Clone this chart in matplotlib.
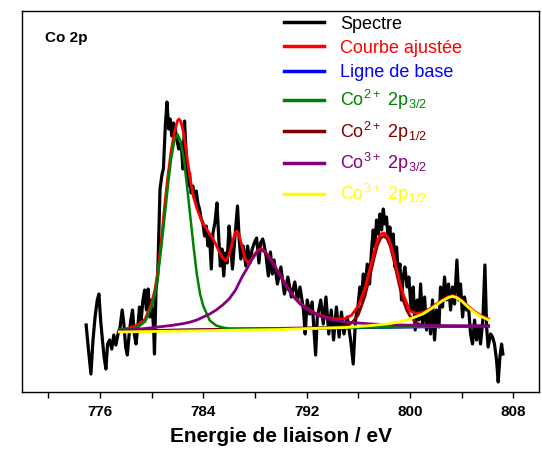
import matplotlib
matplotlib.use("Agg")
import matplotlib.pyplot as plt
from matplotlib.ticker import MultipleLocator

plt.rcParams['font.family'] = ['Liberation Sans', 'DejaVu Sans']
plt.rcParams['mathtext.default'] = 'regular'

# measured spectrum (binding energy in eV, intensity in arbitrary units)
spec_x = [774.93, 775.11, 775.30, 775.46, 775.62, 775.79, 775.92, 776.05, 776.19, 776.32,
          776.46, 776.59, 776.75, 776.91, 777.07, 777.23, 777.40, 777.56, 777.72, 777.85,
          777.99, 778.12, 778.26, 778.39, 778.52, 778.66, 778.79, 778.93, 779.06, 779.19,
          779.33, 779.46, 779.60, 779.73, 779.87, 780.00, 780.16, 780.22, 780.34, 780.47,
          780.65, 780.81, 780.91, 781.06, 781.19, 781.32, 781.43, 781.56, 781.69, 781.82,
          781.95, 782.10, 782.29, 782.42, 782.55, 782.68, 782.81, 782.94, 783.06, 783.19,
          783.32, 783.45, 783.58, 783.71, 783.84, 783.97, 784.10, 784.23, 784.36, 784.49,
          784.62, 784.75, 784.91, 785.06, 785.19, 785.32, 785.45, 785.58, 785.71, 785.84,
          786.00, 786.13, 786.26, 786.44, 786.65, 786.78, 786.91, 787.09, 787.30, 787.43,
          787.61, 787.79, 787.95, 788.13, 788.31, 788.44, 788.60, 788.70, 788.86, 789.04,
          789.20, 789.35, 789.48, 789.74, 790.01, 790.28, 790.55, 790.82, 791.09, 791.30,
          791.49, 791.76, 791.89, 792.05, 792.24, 792.43, 792.70, 792.83, 793.10, 793.29,
          793.50, 793.72, 793.91, 794.09, 794.31, 794.52, 794.70, 794.89, 795.15, 795.41,
          795.61, 795.79, 795.97, 796.13, 796.26, 796.39, 796.52, 796.70, 796.88, 797.03,
          797.16, 797.29, 797.42, 797.55, 797.68, 797.81, 797.94, 798.06, 798.19, 798.32,
          798.45, 798.58, 798.71, 798.84, 798.97, 799.10, 799.23, 799.35, 799.48, 799.61,
          799.79, 799.92, 800.10, 800.26, 800.41, 800.57, 800.70, 800.83, 800.98, 801.14,
          801.29, 801.45, 801.60, 801.75, 801.91, 802.06, 802.25, 802.37, 802.53, 802.68,
          802.84, 802.99, 803.15, 803.30, 803.46, 803.64, 803.79, 803.92, 804.08, 804.23,
          804.39, 804.54, 804.70, 804.85, 805.01, 805.16, 805.32, 805.47, 805.65, 805.81,
          805.94, 806.06, 806.25, 806.40, 806.55, 806.71, 806.84, 806.97, 807.10, 807.20]
spec_y = [67, 42, 18, 52, 75, 92, 98, 72, 52, 35,
          23, 48, 52, 43, 57, 47, 58, 65, 82, 68,
          45, 37, 58, 72, 82, 58, 48, 65, 85, 72,
          92, 102, 82, 103, 75, 92, 62, 38, 103, 116,
          203, 218, 223, 266, 290, 263, 273, 256, 269, 263,
          253, 243, 249, 223, 271, 236, 206, 219, 199, 206,
          193, 201, 189, 183, 173, 169, 156, 166, 146, 156,
          123, 159, 170, 189, 156, 126, 143, 116, 139, 129,
          166, 146, 123, 153, 186, 153, 133, 146, 126, 146,
          129, 143, 149, 154, 129, 149, 153, 148, 136, 116,
          140, 118, 132, 108, 125, 98, 115, 95, 110, 92,
          105, 82, 58, 92, 78, 90, 37, 75, 92, 68,
          95, 58, 82, 52, 85, 55, 80, 58, 75, 52,
          28, 72, 85, 105, 92, 118, 102, 128, 108, 142,
          162, 145, 172, 158, 178, 162, 183, 168, 175, 152,
          165, 142, 158, 125, 145, 118, 128, 92, 115, 125,
          105, 115, 82, 105, 62, 92, 72, 108, 68, 95,
          62, 82, 58, 92, 52, 82, 65, 105, 85, 115,
          92, 108, 82, 105, 88, 132, 92, 108, 75, 95,
          82, 85, 58, 48, 72, 52, 65, 48, 72, 127,
          65, 45, 58, 55, 48, 32, 10, 35, 48, 38]

# fitted envelope
fit_x = [777.5, 778.0, 778.5, 779.0, 779.5, 780.0, 780.25, 780.5, 780.75, 781.0,
         781.25, 781.5, 781.75, 782.0, 782.1, 782.25, 782.5, 782.75, 783.0, 783.25,
         783.5, 783.75, 784.0, 784.25, 784.5, 784.75, 785.0, 785.25, 785.5, 785.75,
         786.0, 786.25, 786.5, 786.6, 786.75, 787.0, 787.25, 787.5, 787.75, 788.0,
         788.25, 788.5, 788.75, 789.0, 789.5, 790.0, 790.5, 791.0, 791.5, 792.0,
         792.5, 793.0, 793.5, 794.0, 794.5, 795.0, 795.5, 796.0, 796.5, 797.0,
         797.25, 797.5, 797.75, 798.0, 798.25, 798.5, 798.75, 799.0, 799.25, 799.5,
         799.75, 800.0, 800.5, 801.0, 801.5, 802.0, 802.5, 803.0, 803.3, 803.6,
         804.0, 804.5, 805.0, 805.5, 806.1]
fit_y = [61.5, 63, 65, 67.5, 73, 89, 102, 122, 152, 185,
         215, 240, 259, 271, 273, 271, 258, 234, 212, 195,
         184, 175, 168, 163, 158, 153, 147, 140, 134, 131,
         137, 150, 160, 161, 158, 146, 133, 129, 133, 138,
         142, 143, 141, 137, 127, 116, 105, 96, 89, 84,
         80, 77, 75, 73.5, 73, 73.5, 77, 86, 103, 128,
         141, 152, 158, 159, 156, 148, 136, 121, 108, 97,
         89, 81, 78.5, 79.5, 83, 87.5, 92, 95.5, 96.5, 95.5,
         92, 86, 80.5, 76.5, 73]

# linear background
base_x = [777.5, 806.1]
base_y = [61, 66]

# Co2+ 2p3/2
co2_32_x = [777.5, 778.0, 778.5, 779.0, 779.5, 780.0, 780.25, 780.5, 780.75, 781.0,
            781.25, 781.5, 781.75, 782.0, 782.25, 782.5, 782.75, 783.0, 783.25, 783.5,
            783.75, 784.0, 784.5, 785.0, 785.5, 786.0, 790.0, 806.1]
co2_32_y = [62.5, 63, 63.5, 65.5, 70.5, 85.5, 97.5, 117.5, 144.5, 174.5,
            204.5, 232.5, 250.5, 257.8, 250.6, 232.8, 204.8, 175, 145, 118,
            98, 86, 71.5, 66.5, 64.5, 63.5, 63.5, 66]

# Co2+ 2p1/2
co2_12_x = [777.5, 794.0, 795.0, 795.5, 796.0, 796.5, 797.0, 797.25, 797.5, 797.75,
            798.0, 798.25, 798.5, 798.75, 799.0, 799.25, 799.5, 799.75, 800.0, 800.5,
            801.0, 802.0, 806.1]
co2_12_y = [61, 64.5, 66, 69, 77, 95, 121, 135, 147, 154,
            156, 153, 145, 132, 117, 103, 91, 82, 76, 69,
            66.5, 65.5, 66]

# Co3+ 2p3/2
co3_32_x = [777.5, 778.5, 779.5, 780.5, 781.5, 782.5, 783.0, 783.5, 784.0, 784.5,
            785.0, 785.5, 786.0, 786.5, 787.0, 787.5, 787.75, 788.0, 788.25, 788.5,
            788.75, 789.0, 789.5, 790.0, 790.5, 791.0, 791.5, 792.0, 792.5, 793.0,
            794.0, 795.0, 796.0, 797.0, 799.0, 802.0, 806.1]
co3_32_y = [61.5, 62.5, 63.5, 65, 66.5, 68.5, 70, 72, 75, 78,
            82, 87, 93, 102, 115, 126, 132, 137, 141, 142,
            140, 136, 126, 115, 104, 95, 88, 83, 79, 76,
            72, 70, 69, 68, 67, 66.5, 66]

# Co3+ 2p1/2
co3_12_x = [777.5, 785.0, 790.0, 795.0, 797.0, 798.5, 799.5, 800.0, 800.5, 801.0,
            801.5, 802.0, 802.5, 803.0, 803.3, 803.6, 804.0, 804.5, 805.0, 805.5,
            806.1]
co3_12_y = [60, 61.5, 62.5, 64.5, 66.5, 68.5, 71, 73, 75.5, 78,
            82, 86.5, 91, 94.5, 95.5, 94.5, 91, 85, 79.5, 75.5,
            72]

fig = plt.figure(figsize=(5.42, 4.58), dpi=100)
ax = fig.add_axes([0.0415, 0.1441, 0.953, 0.8319])

ax.plot(spec_x, spec_y, color='black', lw=2.3, label='Spectre', zorder=1)
ax.plot(fit_x, fit_y, color='#ff0000', lw=2.0, label='Courbe ajustée', zorder=4)
ax.plot(base_x, base_y, color='#0000ff', lw=2.0, label='Ligne de base', zorder=2)
ax.plot(co2_32_x, co2_32_y, color='#008000', lw=1.8,
        label=r'Co$^{2+}$ 2p$_{3/2}$', zorder=5)
ax.plot(co2_12_x, co2_12_y, color='#800000', lw=2.0,
        label=r'Co$^{2+}$ 2p$_{1/2}$', zorder=3)
ax.plot(co3_32_x, co3_32_y, color='#800080', lw=2.0,
        label=r'Co$^{3+}$ 2p$_{3/2}$', zorder=6)
ax.plot(co3_12_x, co3_12_y, color='#ffff00', lw=2.0,
        label=r'Co$^{3+}$ 2p$_{1/2}$', zorder=7)

ax.set_xlim(770, 810)
ax.set_ylim(0, 381)
ax.xaxis.set_minor_locator(MultipleLocator(4))
ax.set_xticks([776, 784, 792, 800, 808])
ax.set_yticks([])
ax.tick_params(axis='x', which='both', direction='out', length=4, width=1,
               labelsize=11, pad=5)
for lab in ax.get_xticklabels():
    lab.set_fontweight('bold')
for s in ax.spines.values():
    s.set_linewidth(1.0)

ax.set_xlabel('Energie de liaison / eV', fontsize=15, fontweight='bold', labelpad=6)
ax.text(0.043, 0.93, 'Co 2p', transform=ax.transAxes, fontsize=11,
        fontweight='bold', va='center')

leg = ax.legend(loc='upper left', bbox_to_anchor=(0.493, 1.007), frameon=False,
                fontsize=13, handlelength=2.2, handletextpad=0.9,
                labelspacing=0.4, borderaxespad=0)
text_colors = ['black', '#ff0000', '#0000ff', '#008000', '#800000', '#800080', '#ffff00']
for t, c in zip(leg.get_texts(), text_colors):
    t.set_color(c)
for h in leg.get_lines():
    h.set_linewidth(2.5)

fig.savefig('out.png', dpi=100)
